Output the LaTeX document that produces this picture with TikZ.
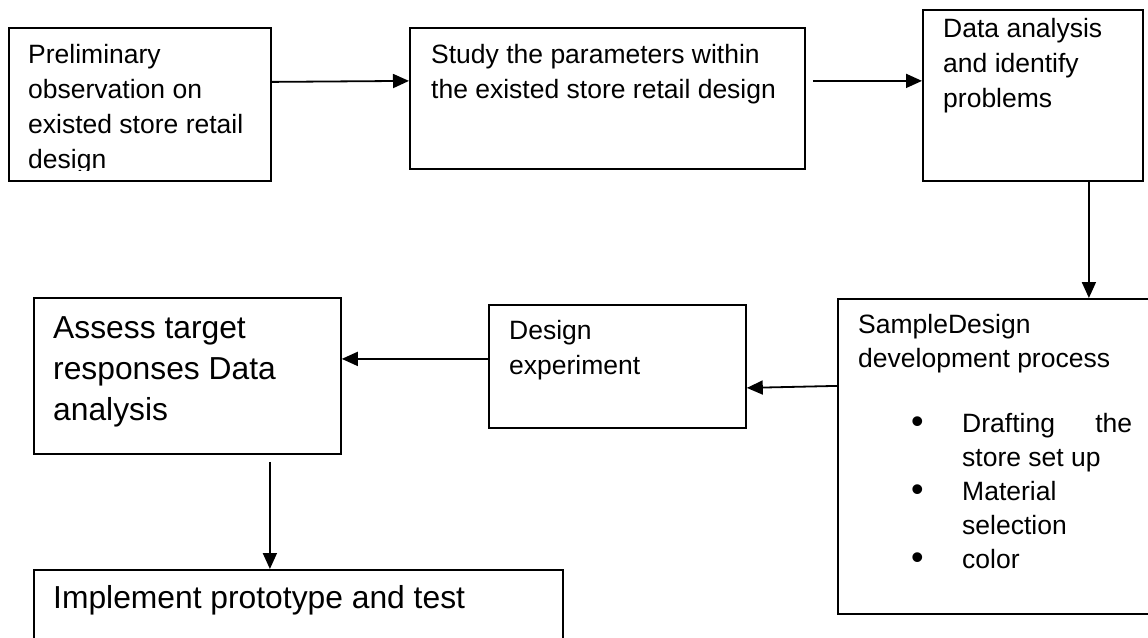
\documentclass[tikz,border=0pt]{standalone}
\usepackage{fontspec}
\setmainfont{Liberation Sans}
\usetikzlibrary{arrows.meta}
\begin{document}
\begin{tikzpicture}[x=1pt,y=-1pt,
  box/.style={draw, line width=1.8pt, rectangle, inner sep=0pt, anchor=north west},
  txt/.style={anchor=north west, inner sep=0pt, align=left, font=\fontsize{26.5}{35}\selectfont},
  bigtxt/.style={anchor=north west, inner sep=0pt, align=left, font=\fontsize{31.8}{41}\selectfont},
  listtxt/.style={anchor=north west, inner sep=0pt, align=left, font=\fontsize{26.5}{34}\selectfont},
  arr/.style={line width=1.8pt, -{Triangle[length=16pt,width=14pt]}}]
\fill[white] (0,0) rectangle (1148,637);
\useasboundingbox (0,0) rectangle (1148,637);
\clip (0,0) rectangle (1148,637);

% boxes
\node[box, minimum width=262pt, minimum height=153pt] (b1) at (8,27) {};
\node[box, minimum width=395pt, minimum height=141pt] (b2) at (409,27) {};
\node[box, minimum width=220pt, minimum height=171pt] (b3) at (922,9) {};
\node[box, minimum width=320pt, minimum height=315pt] (b4) at (837,298) {};
\node[box, minimum width=257pt, minimum height=123pt] (b5) at (488,304) {};
\node[box, minimum width=307pt, minimum height=156pt] (b6) at (33,297) {};
\node[box, minimum width=529pt, minimum height=100pt] (b7) at (33,569) {};

% texts
\begin{scope}
  \clip (b1.north west) rectangle ([yshift=11pt]b1.south east);
  \node[txt] (t1) at (28,38.5) {\strut Preliminary\\observation on\\existed store retail\\design};
\end{scope}
\node[txt] (t2) at (431,38.5) {\strut Study the parameters within\\the existed store retail design};
\node[txt] (t3) at (943,13) {\strut Data analysis\\and identify\\problems};
\node[listtxt] (t4a) at (858,309.2) {\strut SampleDesign\\development process};
\newcommand{\blt}{\makebox[50pt][l]{\kern-1pt\raisebox{-1pt}{\scalebox{1.35}{•}}}}
\node[listtxt] (t4b) at (912,408.2) {\strut\blt\hbox to 170pt{Drafting\hfill the}\\\hspace*{50pt}store set up\\\blt Material\\\hspace*{50pt}selection\\\blt color};
\node[txt] (t5) at (509,314.5) {\strut Design\\experiment};
\node[bigtxt] (t6) at (53,309.3) {\strut Assess target\\responses Data\\analysis};
\node[bigtxt] (t7) at (53,579.3) {\strut Implement prototype and test};

% connectors
\draw[arr] ([yshift=22.5pt]b1.east) -- ([yshift=17.5pt]b2.west);
\draw[arr] ([xshift=7pt,yshift=17.5pt]b2.east) -- ([yshift=14.5pt]b3.west);
\draw[arr] ([xshift=56pt]b3.south) -- ([xshift=56pt]b3.south |- b4.north);
\draw[arr] ([yshift=70.5pt]b4.west) -- ([yshift=-21.5pt]b5.east);
\draw[arr] ([yshift=7.5pt]b5.west) -- ([yshift=17pt]b6.east);
\draw[arr] ([xshift=82.5pt,yshift=-7pt]b6.south) -- ([xshift=82.5pt]b6.south |- b7.north);
\end{tikzpicture}
\end{document}
